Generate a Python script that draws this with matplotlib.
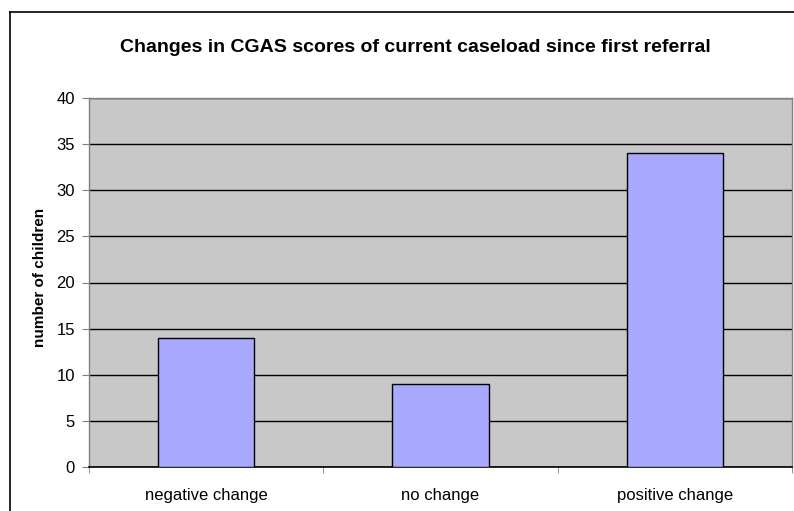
import matplotlib
matplotlib.use("Agg")
import matplotlib.pyplot as plt
from matplotlib.lines import Line2D

categories = ["negative change", "no change", "positive change"]
values = [14, 9, 34]
yticks = [0, 5, 10, 15, 20, 25, 30, 35, 40]

plt.rcParams['font.family'] = ['Liberation Sans', 'DejaVu Sans']

fig = plt.figure(figsize=(7.94, 5.11), dpi=100)
ax = fig.add_axes([89/794, 1 - 467/511, (792 - 89)/794, (467 - 98)/511])
ax.set_facecolor('#C8C8C8')

x = list(range(len(categories)))
ax.bar(x, values, width=0.41, color='#A9AAFF', edgecolor='black', linewidth=1.0, zorder=3)

ax.set_xlim(-0.5, len(categories) - 0.5)
ax.set_ylim(0, 40)
ax.set_yticks(yticks)
ax.set_yticklabels([str(v) for v in yticks], fontsize=12)
ax.yaxis.grid(True, color='black', linewidth=1.0, zorder=1)
ax.set_axisbelow(True)

ax.set_xticks(x)
ax.set_xticklabels(categories, fontsize=12)
ax.tick_params(axis='x', length=0, pad=15)
ax.set_xticks([i - 0.5 for i in range(len(categories) + 1)], minor=True)
ax.tick_params(axis='x', which='minor', length=4, color='#808080', direction='out')
ax.tick_params(axis='y', length=5, color='#808080', direction='out', pad=5)

for side in ['left', 'right', 'top']:
    ax.spines[side].set_color('#808080')
    ax.spines[side].set_linewidth(1.0)
ax.spines['bottom'].set_color('black')
ax.spines['bottom'].set_linewidth(1.2)

ax.set_ylabel("number of children", fontsize=11, fontweight='bold', va='center')
ax.yaxis.set_label_coords(-49/703, 0.515)

fig.text(415/794, 1 - 47/511, "Changes in CGAS scores of current caseload since first referral",
         ha='center', va='center', fontsize=14, fontweight='bold')

# figure border (left and top)
fig.add_artist(Line2D([10/794, 10/794], [0, 1 - 12/511], transform=fig.transFigure, color='black', linewidth=1.2))
fig.add_artist(Line2D([10/794, 1], [1 - 12/511, 1 - 12/511], transform=fig.transFigure, color='black', linewidth=1.2))

fig.savefig("out.png", dpi=100)
